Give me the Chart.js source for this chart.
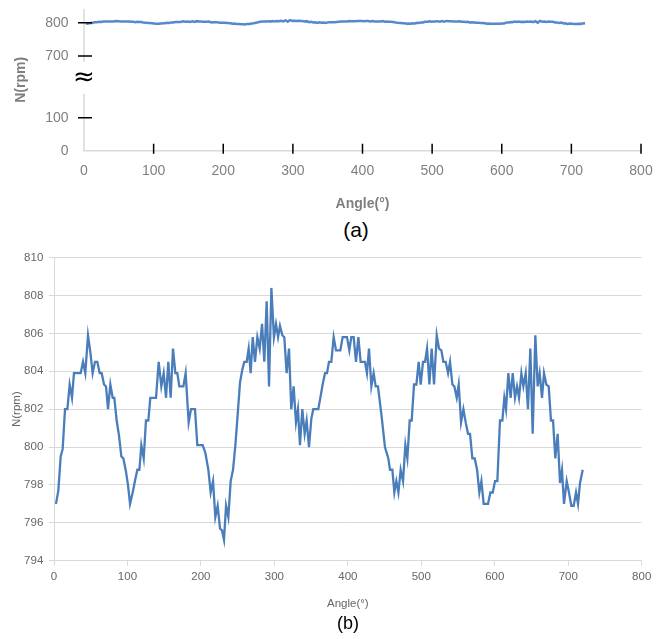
<!DOCTYPE html>
<html>
<head>
<meta charset="utf-8">
<script src="https://cdn.jsdelivr.net/npm/chart.js@4/dist/chart.umd.min.js"></script>
<style>
  html, body { margin: 0; padding: 0; background: #fff; }
  body { width: 666px; height: 639px; position: relative; overflow: hidden; font-family: "Liberation Sans", Arial, sans-serif; }
  .box { position: absolute; left: 0; width: 666px; }
  #boxA { top: 0; height: 215px; }
  #boxB { top: 245px; height: 370px; }
  .cap { position: absolute; transform: translate(-50%, -50%); color: #000; line-height: 1; }
  #capA { left: 356px; top: 229px; font-size: 21px; }
  #capB { left: 348px; top: 623px; font-size: 18px; }
</style>
</head>
<body>
<div class="box" id="boxA"><canvas id="chartA"></canvas></div>
<div class="cap" id="capA">(a)</div>
<div class="box" id="boxB"><canvas id="chartB"></canvas></div>
<div class="cap" id="capB">(b)</div>
<script>
// crank angle (deg) and engine speed (rpm) (b)
const angles = [
  2.7, 5.9, 9.1, 11.8, 15, 18.2, 21.3, 24.5, 27.2, 30.9, 36.3, 39.5, 42.6, 46.3, 49.5, 52.6, 55.8, 59, 62.2, 64.9,
  68.1, 70.8, 73.5, 76.7, 79.9, 82.1, 85.3, 88.5, 91.7, 94.4, 98, 100.7, 103.5, 107.1, 110.7, 113.5, 116.2, 118.9, 122.1, 125.2,
  128.4, 131.1, 138.9, 142.5, 146.1, 149.3, 152.5, 155.6, 158.8, 162, 165.2, 167.9, 170.6, 176.1, 179.2, 183.3, 186.5, 191.9, 195.1, 202.4,
  206, 210.1, 213.3, 216.5, 219.6, 222.8, 226, 228.7, 231.4, 234.2, 237.3, 240.5, 243.7, 246.9, 250, 253.2, 256.4, 259.1, 262.3, 265,
  267.7, 270.5, 273.6, 276.8, 280, 283.2, 286.3, 289.5, 292.7, 295.9, 299.4, 302.2, 305, 307.6, 310.8, 313.5, 316.7, 319.9, 323, 326.2,
  329.4, 332.1, 334.8, 338, 341.2, 343.9, 347.1, 350.3, 353, 359.8, 363, 365.7, 368.9, 371.6, 374.3, 377.5, 380.7, 383.9, 389.8, 392.9,
  398.8, 402, 404.7, 407.9, 411.1, 414.3, 417.4, 423.3, 426, 428.8, 432, 435.1, 437.9, 441, 446, 450.5, 455.1, 457.4, 460.6, 463.3,
  466, 468.8, 471.9, 475.1, 478.3, 481, 484.2, 486.9, 490.1, 493.3, 496.4, 499.2, 502.3, 505.1, 507.8, 511, 514.1, 517.3, 521, 524.1,
  527.3, 530, 533.2, 536.4, 539.1, 542.3, 545, 548.2, 550.9, 554.1, 557.3, 560.4, 563.6, 566.3, 569.5, 572.7, 575.9, 579, 581.8, 584.9,
  590.8, 594, 597.2, 600.4, 603.5, 607.1, 610.3, 613, 615.3, 618.5, 621.6, 624.4, 627.5, 630.3, 633, 636.2, 638.9, 642.1, 645.2, 648.4,
  651.6, 655.2, 658.4, 661.1, 664.3, 667, 670.2, 673.4, 676.5, 679.3, 682.4, 685.6, 688.8, 691.5, 694.2, 697.9, 701, 704.2, 707.4, 710.6,
  713.3, 716, 719.7
];
const rpm = [
  797.0, 797.7, 799.5, 799.9, 802.0, 802.0, 803.3, 802.6, 803.9, 803.9, 803.9, 804.5, 803.9, 805.9, 805.0, 803.9, 804.5, 804.5, 803.9, 803.9,
  803.3, 803.2, 802.0, 803.3, 802.6, 802.6, 801.4, 800.6, 799.5, 799.4, 798.7, 798.0, 797.0, 797.6, 798.3, 798.8, 798.8, 800.1, 799.4, 801.4,
  801.4, 802.6, 802.6, 804.5, 803.2, 803.9, 802.6, 804.5, 802.6, 805.2, 803.9, 803.9, 803.2, 803.2, 803.9, 801.3, 802.0, 802.0, 800.1, 800.1,
  799.7, 798.8, 797.6, 798.2, 796.3, 796.9, 795.7, 795.6, 795.1, 796.9, 796.3, 798.2, 798.8, 800.1, 801.7, 803.4, 804.1, 804.5, 804.5, 805.2,
  803.9, 805.8, 804.5, 805.8, 805.2, 806.5, 804.5, 807.7, 803.2, 808.4, 805.8, 806.5, 805.8, 806.4, 805.9, 805.8, 803.9, 805.2, 802.0, 803.2,
  801.3, 802.0, 800.1, 802.0, 800.7, 801.4, 800.0, 801.5, 802.0, 802.0, 802.7, 803.3, 803.9, 803.9, 804.5, 804.5, 805.8, 805.1, 805.1, 805.8,
  805.8, 805.1, 805.8, 805.8, 804.5, 805.8, 804.5, 804.5, 803.9, 805.2, 803.2, 803.9, 803.2, 803.2, 801.6, 800.0, 799.4, 798.8, 798.8, 797.6,
  798.2, 797.6, 798.8, 798.2, 800.1, 799.4, 801.4, 801.4, 803.3, 803.3, 804.5, 803.3, 804.5, 804.5, 805.2, 803.3, 805.2, 803.3, 805.9, 805.2,
  805.1, 804.5, 804.5, 803.9, 804.5, 803.3, 803.2, 802.6, 803.3, 801.3, 802.0, 801.3, 800.7, 800.7, 799.4, 799.4, 798.8, 797.6, 798.2, 797.0,
  797.0, 797.6, 797.6, 798.2, 798.2, 801.4, 801.4, 802.6, 802.0, 803.9, 802.6, 803.9, 802.6, 803.2, 802.6, 803.9, 803.2, 803.9, 802.0, 805.2,
  800.7, 805.9, 803.2, 803.9, 802.6, 803.9, 803.3, 803.2, 801.4, 801.4, 799.4, 800.7, 798.1, 798.8, 797.0, 798.2, 797.6, 796.9, 796.9, 797.6,
  797.0, 798.1, 798.8
];
const angleTicks = [0, 100, 200, 300, 400, 500, 600, 700, 800];
const rpmTicksA = [0, 100, 700, 800];
const rpmTicksB = [794, 796, 798, 800, 802, 804, 806, 808, 810];

// broken axis of (a): the span 100..700 is squeezed out
const breakFrom = 100, breakTo = 700, breakShift = 413;
const toAxis = v => (v >= breakTo ? v - breakShift : v);

Chart.defaults.font.family = '"Liberation Sans", Arial, sans-serif';
Chart.defaults.animation = false;

const points = angles.map((a, i) => ({ x: a, y: rpm[i] }));

/* ============================
   (a) overview with axis break
============================ */
const brokenAxis = {
  id: 'brokenAxis',
  afterDraw(chart) {
    const { ctx, chartArea, scales: { x, y } } = chart;
    const ax = chartArea.left;
    const gapTop = y.getPixelForValue(toAxis(breakTo)) + 6;
    const gapBottom = y.getPixelForValue(toAxis(breakFrom)) - 24;
    ctx.save();
    ctx.strokeStyle = '#d9d9d9';
    ctx.lineWidth = 1.5;
    ctx.beginPath();
    ctx.moveTo(ax, chartArea.top); ctx.lineTo(ax, gapTop);
    ctx.moveTo(ax, gapBottom); ctx.lineTo(ax, chartArea.bottom);
    ctx.stroke();

    ctx.strokeStyle = '#000';
    ctx.lineWidth = 1.5;
    ctx.beginPath();
    rpmTicksA.forEach(v => {
      if (v === 0) return;
      const py = y.getPixelForValue(toAxis(v));
      ctx.moveTo(ax - 6, py); ctx.lineTo(ax + 8, py);
    });
    angleTicks.forEach(v => {
      if (v === 0) return;
      const px = x.getPixelForValue(v);
      ctx.moveTo(px, chartArea.bottom - 7); ctx.lineTo(px, chartArea.bottom + 3);
    });
    ctx.stroke();

    ctx.fillStyle = '#000';
    ctx.font = '26px "DejaVu Sans"';
    ctx.textAlign = 'center';
    ctx.textBaseline = 'middle';
    ctx.fillText('≈', ax, (gapTop + gapBottom) / 2);
    ctx.restore();
  }
};

new Chart(document.getElementById('chartA'), {
  type: 'line',
  data: {
    datasets: [{
      data: points.map(p => ({ x: p.x, y: toAxis(p.y) })),
      borderColor: '#5588cc',
      borderWidth: 2.5,
      pointRadius: 0,
      tension: 0
    }]
  },
  options: {
    responsive: true,
    maintainAspectRatio: false,
    layout: { padding: { left: 0, right: 25, top: 9, bottom: 0 } },
    plugins: { legend: { display: false }, tooltip: { enabled: false } },
    scales: {
      x: {
        type: 'linear', min: 0, max: 800,
        afterBuildTicks: s => { s.ticks = angleTicks.map(v => ({ value: v })); },
        afterFit: s => { s.height = 64.3; },
        ticks: { color: '#7f7f7f', font: { size: 14 }, padding: 0, maxRotation: 0 },
        // grid hidden: tickLength only sets the label gap
        grid: { display: false, tickLength: 12 },
        border: { color: '#d9d9d9', width: 1.5 },
        title: { display: true, text: 'Angle(°)', color: '#7f7f7f', font: { size: 14, weight: 'bold' }, padding: { top: 0, bottom: 2.5 } }
      },
      y: {
        type: 'linear', min: 0, max: 429,
        afterBuildTicks: s => { s.ticks = rpmTicksA.map(v => ({ value: toAxis(v) })); },
        afterFit: s => { s.width = 84; },
        ticks: { color: '#7f7f7f', font: { size: 14 }, padding: 0, callback: (v, i) => rpmTicksA[i] },
        grid: { display: false, tickLength: 15.5 },
        border: { display: false },
        title: { display: true, text: 'N(rpm)', color: '#7f7f7f', font: { size: 14, weight: 'bold' }, padding: { top: 12.6, bottom: 0 } }
      }
    }
  },
  plugins: [brokenAxis]
});

/* ============================
   (b) detail
============================ */
new Chart(document.getElementById('chartB'), {
  type: 'line',
  data: {
    datasets: [{
      data: points,
      borderColor: '#4a7ebb',
      borderWidth: 2.3,
      pointRadius: 0,
      tension: 0
    }]
  },
  options: {
    responsive: true,
    maintainAspectRatio: false,
    layout: { padding: { left: 0, right: 24.3, top: 12.3, bottom: 0 } },
    plugins: { legend: { display: false }, tooltip: { enabled: false } },
    scales: {
      x: {
        type: 'linear', min: 0, max: 800,
        afterBuildTicks: s => { s.ticks = angleTicks.map(v => ({ value: v })); },
        afterFit: s => { s.height = 54.3; },
        ticks: { color: '#666', font: { size: 11.5 }, padding: 4, maxRotation: 0 },
        grid: { display: true, drawOnChartArea: false, tickLength: 5, color: '#d9d9d9' },
        border: { color: '#d9d9d9' },
        title: { display: true, text: 'Angle(°)', color: '#666', font: { size: 11.5 }, padding: { top: 0, bottom: 4.4 } }
      },
      y: {
        type: 'linear', min: 794, max: 810,
        afterBuildTicks: s => { s.ticks = rpmTicksB.map(v => ({ value: v })); },
        afterFit: s => { s.width = 54; },
        ticks: { color: '#666', font: { size: 11.5 }, padding: 5.7 },
        grid: { color: '#d9d9d9', tickLength: 5 },
        border: { color: '#d9d9d9' },
        title: { display: true, text: 'N(rpm)', color: '#666', font: { size: 11.5 }, padding: { top: 10.4, bottom: 0 } }
      }
    }
  }
});
</script>
</body>
</html>
